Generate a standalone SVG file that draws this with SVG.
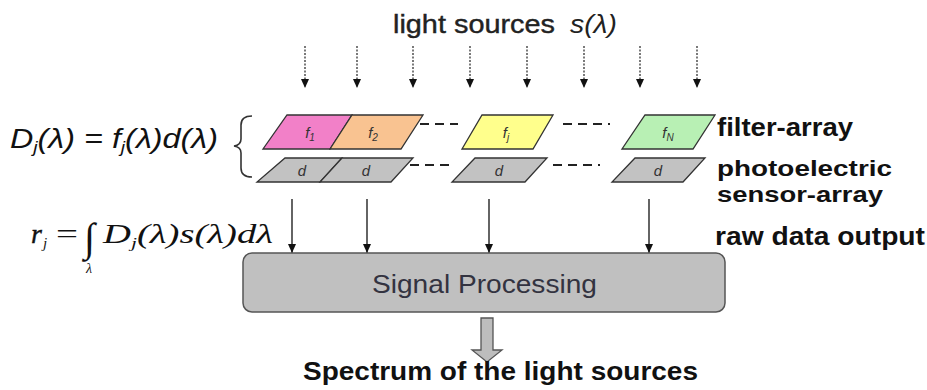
<svg xmlns="http://www.w3.org/2000/svg" width="927" height="390" viewBox="0 0 927 390">
<defs>
<marker id="ah" markerWidth="10" markerHeight="10" refX="9" refY="5" orient="auto" markerUnits="userSpaceOnUse">
<path d="M0,1 L9,5 L0,9 Z" fill="#111"/>
</marker>
<style>
.dot{stroke:#333;stroke-width:1.3;stroke-dasharray:2 1.5;fill:none}
.sol{stroke:#111;stroke-width:1.3;fill:none}
.dash{stroke:#222;stroke-width:1.8;stroke-dasharray:9 6;fill:none}
.pg{stroke:#333;stroke-width:1.3}
.cell{font-family:"Liberation Sans",Arial,sans-serif;font-style:italic;font-size:15px;fill:#333;text-anchor:middle}
.lab{font-family:"Liberation Sans",Arial,sans-serif;font-weight:bold;font-size:25px;fill:#111}
.lab2{font-family:"Liberation Sans",Arial,sans-serif;font-weight:bold;font-size:22px;fill:#111}
</style>
</defs>
<rect width="927" height="390" fill="#fff"/>

<g id="title">
<text x="393" y="33" font-family="'Liberation Sans',Arial,sans-serif" font-size="26" fill="#222" stroke="#222" stroke-width="0.4" textLength="162" lengthAdjust="spacingAndGlyphs">light sources</text>
<text x="570" y="33" font-family="'Liberation Sans',Arial,sans-serif" font-size="26" font-style="italic" fill="#222" textLength="47" lengthAdjust="spacingAndGlyphs">s(λ)</text>
</g>

<g id="connectors">
<line class="dot" x1="305" y1="46" x2="305" y2="88" marker-end="url(#ah)"/>
<line class="dot" x1="357" y1="46" x2="357" y2="88" marker-end="url(#ah)"/>
<line class="dot" x1="413" y1="46" x2="413" y2="88" marker-end="url(#ah)"/>
<line class="dot" x1="470" y1="46" x2="470" y2="88" marker-end="url(#ah)"/>
<line class="dot" x1="527" y1="46" x2="527" y2="88" marker-end="url(#ah)"/>
<line class="dot" x1="584" y1="46" x2="584" y2="88" marker-end="url(#ah)"/>
<line class="dot" x1="640" y1="46" x2="640" y2="88" marker-end="url(#ah)"/>
<line class="dot" x1="697" y1="46" x2="697" y2="88" marker-end="url(#ah)"/>
<line class="sol" x1="292" y1="199" x2="292" y2="253" marker-end="url(#ah)"/>
<line class="sol" x1="367" y1="199" x2="367" y2="253" marker-end="url(#ah)"/>
<line class="sol" x1="489" y1="199" x2="489" y2="253" marker-end="url(#ah)"/>
<line class="sol" x1="649" y1="199" x2="649" y2="253" marker-end="url(#ah)"/>
<line class="dash" x1="420" y1="124" x2="458" y2="124"/>
<line class="dash" x1="563" y1="124" x2="610" y2="124"/>
<line class="dash" x1="410" y1="165" x2="453" y2="165"/>
<line class="dash" x1="553" y1="165" x2="600" y2="165"/>
<path d="M481,318 H493 V350 H502 L487,362 L472,350 H481 Z" fill="#bdbdbd" stroke="#555" stroke-width="1.3"/>
</g>

<g id="filter-array">
<polygon class="pg" points="287,115 352,115 330,149 263,149" fill="#f280c8"/>
<polygon class="pg" points="352,115 423,115 401,149 330,149" fill="#f9c391"/>
<polygon class="pg" points="482,115 553,115 533,149 462,149" fill="#ffff8c"/>
<polygon class="pg" points="645,115 715,115 693,149 622,149" fill="#b8f0b4"/>
<text class="cell" x="310" y="138">f<tspan font-size="10" dy="3">1</tspan></text>
<text class="cell" x="373" y="138">f<tspan font-size="10" dy="3">2</tspan></text>
<text class="cell" x="506" y="138">f<tspan font-size="10" dy="3">j</tspan></text>
<text class="cell" x="668" y="138">f<tspan font-size="10" dy="3">N</tspan></text>
</g>

<g id="sensor-array">
<polygon class="pg" points="285,158 342,158 320,182 257,182" fill="#c2c2c2"/>
<polygon class="pg" points="342,158 413,158 391,182 320,182" fill="#c2c2c2"/>
<polygon class="pg" points="475,158 547,158 525,182 452,182" fill="#c2c2c2"/>
<polygon class="pg" points="635,158 705,158 683,182 612,182" fill="#c2c2c2"/>
<text class="cell" x="302" y="176">d</text>
<text class="cell" x="366" y="176">d</text>
<text class="cell" x="499" y="176">d</text>
<text class="cell" x="658" y="176">d</text>
</g>

<g id="brace">
<path d="M252,116 Q241,116 241,125 V139 Q241,145 234,146 Q241,147 241,153 V168 Q241,177 252,177" fill="none" stroke="#333" stroke-width="1.6"/>
</g>

<g id="formula-d">
<text x="10" y="148" font-family="'Liberation Sans',Arial,sans-serif" font-style="italic" font-size="27" fill="#111" textLength="208" lengthAdjust="spacingAndGlyphs">D<tspan font-size="16" dy="5">j</tspan><tspan dy="-5">(λ) = f</tspan><tspan font-size="16" dy="5">j</tspan><tspan dy="-5">(λ)d(λ)</tspan></text>
</g>

<g id="formula-r">
<text x="31" y="243" font-family="'Liberation Serif','Times New Roman',serif" font-style="italic" font-size="28" fill="#111" stroke="#111" stroke-width="0.4">r</text>
<text x="43" y="248" font-family="'Liberation Serif','Times New Roman',serif" font-style="italic" font-size="15" fill="#111">j</text>
<text x="56" y="243" font-family="'Liberation Serif','Times New Roman',serif" font-size="28" fill="#111" textLength="22" lengthAdjust="spacingAndGlyphs">=</text>
<text x="84" y="251" font-family="'Liberation Serif','Times New Roman',serif" font-style="italic" font-size="40" fill="#111">∫</text>
<text x="86" y="273" font-family="'Liberation Serif','Times New Roman',serif" font-style="italic" font-size="14" fill="#111">λ</text>
<text x="103" y="243" font-family="'Liberation Serif','Times New Roman',serif" font-style="italic" font-size="27" fill="#111" textLength="170" lengthAdjust="spacingAndGlyphs">D<tspan font-size="15" dy="5">j</tspan><tspan dy="-5">(λ)s(λ)dλ</tspan></text>
</g>

<g id="labels">
<text class="lab" x="717" y="136" textLength="136" lengthAdjust="spacingAndGlyphs">filter-array</text>
<text class="lab2" x="717" y="176" textLength="175" lengthAdjust="spacingAndGlyphs">photoelectric</text>
<text class="lab2" x="717" y="202" textLength="166" lengthAdjust="spacingAndGlyphs">sensor-array</text>
<text class="lab" x="715" y="245" textLength="210" lengthAdjust="spacingAndGlyphs">raw data output</text>
</g>

<g id="signal-processing">
<rect x="243" y="253" width="482" height="59" rx="9" fill="#c0c0c0" stroke="#555" stroke-width="1.5"/>
<text x="372" y="293" font-family="'Liberation Sans',Arial,sans-serif" font-size="25" fill="#333340" textLength="225" lengthAdjust="spacingAndGlyphs">Signal Processing</text>
</g>

<g id="output">
<text class="lab" x="303" y="380" textLength="395" lengthAdjust="spacingAndGlyphs">Spectrum of the light sources</text>
</g>
</svg>
